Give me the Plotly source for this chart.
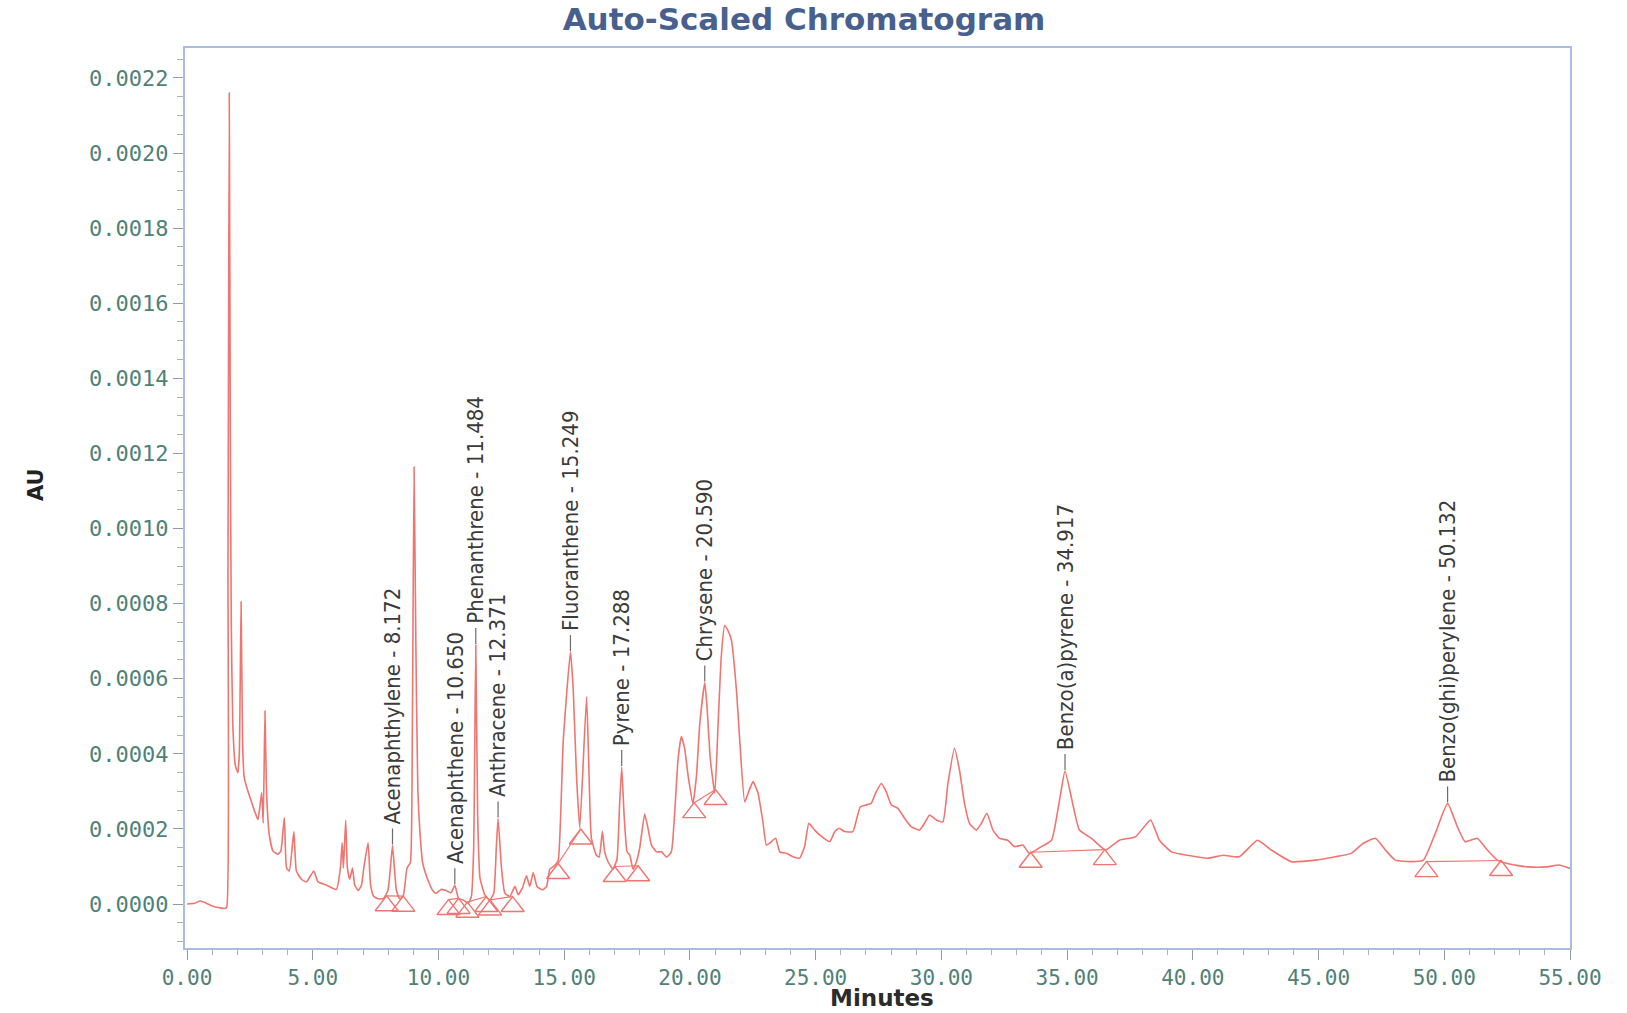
import plotly.graph_objects as go

# Chromatogram signal: retention time (min) and detector response (AU)
time_min = [
    0.00, 0.30, 0.52, 0.75, 1.00, 1.30, 1.50, 1.58, 1.63, 1.68, 1.72, 1.76, 1.82, 1.92,
    2.02, 2.08, 2.15, 2.21, 2.27, 2.40, 2.55, 2.70, 2.82, 2.90, 2.97, 3.03, 3.10, 3.16,
    3.27, 3.42, 3.62, 3.73, 3.87, 3.96, 4.07, 4.25, 4.35, 4.55, 4.75, 5.04, 5.21, 5.54,
    5.94, 6.10, 6.17, 6.22, 6.31, 6.38, 6.47, 6.58, 6.67, 6.81, 6.94, 7.03, 7.20, 7.30,
    7.42, 7.60, 7.80, 7.99, 8.08, 8.172, 8.26, 8.33, 8.46, 8.60, 8.75, 8.88, 8.96, 9.03,
    9.10, 9.18, 9.27, 9.37, 9.57, 9.77, 9.90, 10.10, 10.30, 10.50, 10.650, 10.80, 10.98,
    11.18, 11.31, 11.40, 11.484, 11.56, 11.65, 11.84, 12.04, 12.20, 12.30, 12.371, 12.51,
    12.64, 12.84, 13.04, 13.17, 13.34, 13.50, 13.63, 13.77, 13.92, 14.14, 14.30, 14.43,
    14.63, 14.76, 14.96, 15.249, 15.36, 15.49, 15.62, 15.89, 15.99, 16.08, 16.28, 16.39,
    16.52, 16.61, 16.75, 16.94, 17.10, 17.20, 17.288, 17.38, 17.50, 17.61, 17.74, 17.87,
    18.00, 18.20, 18.33, 18.47, 18.67, 18.87, 19.07, 19.26, 19.40, 19.53, 19.66, 19.79,
    19.93, 20.12, 20.26, 20.39, 20.590, 20.68, 20.81, 20.99, 21.12, 21.25, 21.38, 21.50,
    21.65, 21.85, 21.98, 22.18, 22.34, 22.51, 22.71, 22.91, 23.04, 23.17, 23.41, 23.57,
    23.84, 24.10, 24.36, 24.56, 24.73, 24.96, 25.16, 25.56, 25.76, 25.93, 26.15, 26.48,
    26.62, 26.78, 27.01, 27.21, 27.38, 27.61, 27.81, 28.01, 28.27, 28.54, 28.80, 29.13,
    29.33, 29.53, 29.80, 30.06, 30.26, 30.52, 30.72, 30.92, 31.12, 31.39, 31.59, 31.81,
    32.05, 32.31, 32.64, 32.91, 33.24, 33.50, 33.90, 34.38, 34.70, 34.917, 35.25, 35.49,
    35.97, 36.53, 37.08, 37.72, 38.32, 38.67, 39.15, 39.79, 40.58, 41.22, 41.85, 42.57,
    43.12, 43.92, 44.87, 45.67, 46.30, 46.78, 47.26, 47.66, 48.05, 48.69, 49.17, 49.64,
    50.132, 50.52, 50.83, 51.31, 51.71, 52.11, 52.50, 53.30, 54.09, 54.57, 55.00,
]
absorbance_au = [
    0.000000, 0.000002, 0.000008, 0.000003, -0.000005, -0.000010, -0.000012, -0.000008,
    0.000900, 0.002160, 0.001300, 0.000750, 0.000480, 0.000370,
    0.000350, 0.000400, 0.000805, 0.000430, 0.000340, 0.000305, 0.000275, 0.000245,
    0.000225, 0.000260, 0.000297, 0.000215, 0.000514, 0.000305,
    0.000185, 0.000141, 0.000133, 0.000141, 0.000230, 0.000096, 0.000088, 0.000193,
    0.000088, 0.000066, 0.000059, 0.000088, 0.000059, 0.000051,
    0.000039, 0.000096, 0.000163, 0.000096, 0.000223, 0.000096, 0.000066, 0.000096,
    0.000051, 0.000036, 0.000051, 0.000096, 0.000163, 0.000051,
    0.000021, 0.000014, 0.000014, 0.000036, 0.000090, 0.000156, 0.000085, 0.000036,
    0.000014, 0.000021, 0.000096, 0.000110, 0.000454, 0.001164,
    0.000700, 0.000305, 0.000185, 0.000110, 0.000066, 0.000036, 0.000028, 0.000039,
    0.000036, 0.000030, 0.000050, 0.000015, 0.000011,
    0.000002, 0.000020, 0.000150, 0.000690, 0.000230, 0.000070, 0.000025, 0.000011,
    0.000029, 0.000150, 0.000228, 0.000093,
    0.000029, 0.000020, 0.000047, 0.000025, 0.000043, 0.000075, 0.000047, 0.000084,
    0.000047, 0.000038, 0.000047, 0.000093,
    0.000103, 0.000115, 0.000432, 0.000671, 0.000570, 0.000341, 0.000203, 0.000552,
    0.000341, 0.000176, 0.000130, 0.000125,
    0.000194, 0.000139, 0.000112, 0.000093, 0.000120, 0.000260, 0.000365, 0.000240,
    0.000140, 0.000130, 0.000093, 0.000112,
    0.000148, 0.000240, 0.000203, 0.000157, 0.000139, 0.000139, 0.000125, 0.000139,
    0.000249, 0.000387, 0.000446, 0.000414,
    0.000341, 0.000267, 0.000341, 0.000478, 0.000590, 0.000525, 0.000387, 0.000295,
    0.000478, 0.000662, 0.000742, 0.000730,
    0.000703, 0.000570, 0.000437, 0.000272, 0.000300, 0.000326, 0.000295, 0.000215,
    0.000157, 0.000162, 0.000175, 0.000139,
    0.000135, 0.000126, 0.000122, 0.000153, 0.000215, 0.000197, 0.000184, 0.000166,
    0.000193, 0.000202, 0.000193, 0.000193,
    0.000224, 0.000259, 0.000264, 0.000268, 0.000295, 0.000321, 0.000299, 0.000264,
    0.000255, 0.000228, 0.000206, 0.000197,
    0.000215, 0.000237, 0.000224, 0.000219, 0.000321, 0.000415, 0.000357, 0.000268,
    0.000215, 0.000197, 0.000215, 0.000242,
    0.000197, 0.000175, 0.000170, 0.000153, 0.000157, 0.000135, 0.000150, 0.000170,
    0.000277, 0.000354, 0.000259, 0.000197,
    0.000175, 0.000144, 0.000170, 0.000179, 0.000224, 0.000170, 0.000139, 0.000130,
    0.000122, 0.000130, 0.000126, 0.000170,
    0.000144, 0.000113, 0.000117, 0.000126, 0.000135, 0.000162, 0.000175, 0.000144,
    0.000117, 0.000113, 0.000117, 0.000188,
    0.000268, 0.000206, 0.000166, 0.000175, 0.000144, 0.000117, 0.000108, 0.000099,
    0.000099, 0.000104, 0.000095,
]

# Identified PAH peaks
peak_names = [
    "Acenaphthylene", "Acenaphthene", "Phenanthrene", "Anthracene", "Fluoranthene",
    "Pyrene", "Chrysene", "Benzo(a)pyrene", "Benzo(ghi)perylene",
]
peak_times = [8.172, 10.650, 11.484, 12.371, 15.249, 17.288, 20.590, 34.917, 50.132]
peak_heights = [0.000156, 0.000050, 0.000690, 0.000228, 0.000671, 0.000365, 0.000590,
                0.000354, 0.000268]

# Integration events: peak start / end times and baseline level at each
event_start = [7.94, 10.40, 11.15, 12.05, 14.76, 17.01, 20.17, 33.55, 49.29]
event_end = [8.60, 10.80, 11.90, 12.95, 15.66, 17.94, 21.02, 36.50, 52.26]
baseline_start = [0.000022, 0.000012, 0.000005, 0.000011, 0.000108, 0.000100, 0.000270,
                  0.000138, 0.000113]
baseline_end = [0.000021, 0.000015, 0.000020, 0.000020, 0.000200, 0.000102, 0.000305,
                0.000145, 0.000116]

# Axis ticks
x_tick_vals = [0, 5, 10, 15, 20, 25, 30, 35, 40, 45, 50, 55]
x_tick_text = ["0.00", "5.00", "10.00", "15.00", "20.00", "25.00", "30.00", "35.00",
               "40.00", "45.00", "50.00", "55.00"]
y_tick_vals = [0.0000, 0.0002, 0.0004, 0.0006, 0.0008, 0.0010, 0.0012, 0.0014, 0.0016,
               0.0018, 0.0020, 0.0022]
y_tick_text = ["0.0000", "0.0002", "0.0004", "0.0006", "0.0008", "0.0010", "0.0012",
               "0.0014", "0.0016", "0.0018", "0.0020", "0.0022"]

# ---- geometry and style ----
W, H = 1627, 1013
PL, PR, PT, PB = 185, 1570, 48, 948
X_RANGE = [-0.08, 55.0]
Y_RANGE = [-0.000117, 0.0022796]

TRACE = "#f07570"
AXIS = "#a9bde2"
TICKLBL = "#4f8179"
LABEL = "#3b3b3b"

au_per_px = (Y_RANGE[1] - Y_RANGE[0]) / (PB - PT)
tri_drop = 10 * au_per_px  # triangle apex sits on the baseline point

fig = go.Figure()

fig.add_trace(go.Scatter(
    x=time_min, y=absorbance_au, mode="lines",
    line=dict(color=TRACE, width=1.6, shape="spline", smoothing=0.45),
    hoverinfo="skip", showlegend=False,
))

# baselines drawn between integration start and end
bx, by = [], []
for s, e, ys, ye in zip(event_start, event_end, baseline_start, baseline_end):
    bx += [s, e, None]
    by += [ys, ye, None]
fig.add_trace(go.Scatter(
    x=bx, y=by, mode="lines", line=dict(color=TRACE, width=1.2),
    hoverinfo="skip", showlegend=False,
))

# start/end event markers
fig.add_trace(go.Scatter(
    x=event_start + event_end,
    y=[v - tri_drop for v in baseline_start + baseline_end],
    mode="markers",
    marker=dict(symbol="triangle-up-open", size=20, color=TRACE, line=dict(width=1.4)),
    hoverinfo="skip", showlegend=False,
))

# peak labels with small tick above each apex
for name, t, h in zip(peak_names, peak_times, peak_heights):
    fig.add_shape(
        type="line", xref="x", yref="y", x0=t, x1=t,
        ysizemode="pixel", yanchor=h, y0=1, y1=17,
        line=dict(color="#6e6a6a", width=1.2),
    )
    fig.add_annotation(
        x=t, y=h, xref="x", yref="y", text=f"{name} - {t:.3f}",
        textangle=-90, showarrow=False, xanchor="center", yanchor="bottom",
        yshift=19,
        font=dict(family="Liberation Sans Narrow, DejaVu Sans Condensed, Arial Narrow, sans-serif",
                  size=22, color=LABEL),
    )

plot_w = PR - PL
plot_h = PB - PT

# axis titles
fig.add_annotation(
    xref="paper", yref="paper", x=(36 - PL) / plot_w, y=(PB - 485) / plot_h,
    text="<b>AU</b>", textangle=-90, showarrow=False, xanchor="center", yanchor="middle",
    font=dict(family="DejaVu Sans", size=21, color="#222222"),
)
fig.add_annotation(
    xref="paper", yref="paper", x=(882 - PL) / plot_w, y=(PB - 998) / plot_h,
    text="<b>Minutes</b>", showarrow=False, xanchor="center", yanchor="middle",
    font=dict(family="DejaVu Sans", size=23, color="#2b2b2b"),
)

fig.update_layout(
    width=W, height=H,
    margin=dict(l=PL, r=W - PR, t=PT, b=H - PB, pad=0),
    paper_bgcolor="white", plot_bgcolor="white",
    title=dict(
        text="<b>Auto-Scaled Chromatogram</b>",
        x=804 / W, xanchor="center", y=1 - 19 / H, yanchor="middle",
        font=dict(family="DejaVu Sans", size=31, color="#47608e"),
    ),
    xaxis=dict(
        range=X_RANGE, showgrid=False, zeroline=False,
        showline=True, linecolor=AXIS, linewidth=2, mirror=True,
        tickmode="array", tickvals=x_tick_vals, ticktext=x_tick_text,
        ticks="outside", ticklen=10, tickwidth=1.2, tickcolor="#8e9aa8",
        tickfont=dict(family="DejaVu Sans Mono", size=21, color=TICKLBL),
        minor=dict(dtick=1, tick0=0, ticks="outside", ticklen=5, tickwidth=1,
                   tickcolor="#a6b0bc"),
    ),
    yaxis=dict(
        range=Y_RANGE, showgrid=False, zeroline=False,
        showline=True, linecolor=AXIS, linewidth=2, mirror=True,
        tickmode="array", tickvals=y_tick_vals, ticktext=y_tick_text,
        ticks="outside", ticklen=10, tickwidth=1.2, tickcolor="#8e9aa8",
        tickfont=dict(family="DejaVu Sans Mono", size=22, color=TICKLBL),
        minor=dict(dtick=0.00005, tick0=0, ticks="outside", ticklen=6, tickwidth=1,
                   tickcolor="#a6b0bc"),
    ),
)

fig.write_html("out.html")
